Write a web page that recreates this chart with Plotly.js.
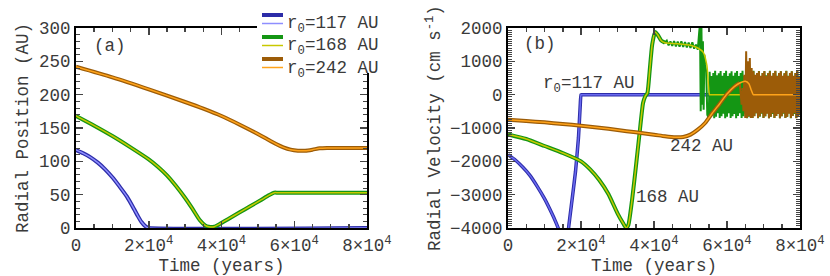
<!DOCTYPE html>
<html>
<head>
<meta charset="utf-8">
<script src="https://cdn.plot.ly/plotly-3.0.1.min.js"></script>
<style>html,body{margin:0;padding:0;background:#fff}#chart{width:830px;height:276px}</style>
</head>
<body>
<div id="chart"></div>
<script>
// ---------- Panel (a): radial position (AU) ----------
var posT117 = [0,2000,4000,6000,8000,10000,12000,14000,16000,17000,18000,19000,19500,20000,80000];
var posR117 = [117,112,106,98,88,76,62,47,28,18,9,3,1,0,0];
var posT168 = [0,5000,10000,15000,20000,22500,25000,27500,30000,32000,34000,35500,36500,38000,39500,42000,45000,48000,51000,53000,54500,55500,80000];
var posR168 = [168,153.5,138,121,103,92,79,63,45,29,12,4,2,2,6,14,23.5,33,42.5,49,53,53,53];
var posT242 = [0,10000,20000,30000,35000,40000,45000,50000,53000,55000,57000,59000,61000,63000,65000,67000,69000,80000];
var posR242 = [242,226,208,189,179,168,155,141,132,126,121,117.5,116,116,117.5,119.5,120,120];

// ---------- Panel (b): radial velocity (cm/s) ----------
var velT117 = [0,2000,4000,6000,8000,10000,12000,13000,14000,15000,16000,16600,17500,18500,19300,19800,20000,20300,80000];
var velV117 = [-1800,-1960,-2170,-2420,-2750,-3120,-3560,-3800,-4080,-5000,-5000,-4000,-3200,-2300,-1300,-300,0,0,0];

// 168 AU, thin (yellow) run
var velT168 = [0,5000,10000,15000,20000,22500,25000,27500,30000,31500,32400,33000,34000,35000,36000,37000,37600,38200,38800,39500,40300,41000,42000,43000,46000,50000,52000,53500,54500,55200,55500,80000];
var velV168 = [-1190,-1330,-1540,-1750,-2000,-2240,-2560,-2980,-3560,-3850,-4000,-3900,-3150,-2200,-1200,-250,-50,50,700,1500,1880,1800,1620,1560,1530,1480,1400,1270,870,0,0,0];

// 168 AU, thick (green) run: smooth part, then noisy part, then oscillation
var velT168g = [0,5000,10000,15000,20000,22500,25000,27500,30000,31500,32400,33000,34000,35000,36000,37000,37600,38200,38800,39500,40300,41000,42000,43000,43500,44000,44500,45000,45500,46000,46500,47000,47500,48000,48500,49000,49500,50000,50500,51000,51500,52000,52400,52600,52800,53000,53200,53400,53600,53800,54000,54300,54600];
var velV168g = [-1190,-1330,-1540,-1750,-2000,-2240,-2560,-2980,-3560,-3850,-4000,-3900,-3150,-2200,-1200,-250,-50,50,700,1500,1880,1800,1620,1560,1620,1480,1600,1460,1610,1450,1590,1440,1600,1430,1580,1420,1560,1400,1570,1380,1500,1350,1900,2100,-500,2000,-300,1600,-450,1200,900,700,-600];
var oscStart168 = 55000, oscStep = 250;
var velOsc168 = [
-700,690,-640,560,-580,650,-710,720,-660,580,-560,640,-700,710,-650,570,-570,650,-710,720,-660,560,-560,640,
-700,700,-650,570,-580,660,-710,710,-640,560,-560,650,-700,720,-650,570,-570,640,-710,700,-660,560,-580,650,
-700,720,-640,570,-560,640,-710,710,-660,560,-570,650,-700,700,-650,580,-560,640,-710,720,-660,560,-580,650,
-700,710,-640,570,-560,650,-710,700,-650,560,-570,640,-700,720,-660,570,-560,650,-710,700,-640,560,-580,650,
-700,710,-660,570,-600];

// 242 AU, thin (orange) run
var velT242 = [0,5000,10000,15000,20000,25000,30000,35000,40000,43000,46000,48000,50000,52000,54000,56000,58000,60000,62000,63500,65000,66000,66600,67200,67600,80000];
var velV242 = [-750,-790,-830,-880,-930,-990,-1060,-1130,-1200,-1250,-1280,-1270,-1200,-1050,-850,-550,-270,20,240,350,400,330,150,0,0,0];
// 242 AU, thick (brown) run: same smooth part up to 63500, then oscillation
var oscStart242 = 64000;
var velOsc242 = [
-300,200,-500,600,-700,1300,-700,1000,-650,1100,-700,800,-700,700,-650,600,-560,650,-700,700,-640,570,-560,650,
-700,710,-650,560,-570,640,-710,700,-660,570,-560,650,-700,720,-640,560,-580,650,-710,700,-650,570,-560,640,
-700,710,-660,560,-570,650,-700,700,-640,570,-560,650,-710,710,-650,560,-570];

var xTickVals = [0,20000,40000,60000,80000];
var xTickText = ['0','2×10<sup>4</sup>','4×10<sup>4</sup>','6×10<sup>4</sup>','8×10<sup>4</sup>'];

// build thick green / brown series
var gT = velT168g.slice(), gV = velV168g.slice();
velOsc168.forEach(function(v,i){ gT.push(oscStart168 + i*oscStep); gV.push(v); });
var bT = [], bV = [];
velT242.forEach(function(t,i){ if (t < oscStart242) { bT.push(t); bV.push(velV242[i]); } });
velOsc242.forEach(function(v,i){ bT.push(oscStart242 + i*oscStep); bV.push(v); });

var C = {
  blueD:'#2c2ca8', blueL:'#8e8eff',
  greenD:'#149614', greenL:'#c8c800',
  brownD:'#9c5c08', brownL:'#ffa31a'
};
function ln(x,y,color,w,xa,ya,smooth){
  var l = {color:color,width:w};
  if (smooth) { l.shape='spline'; l.smoothing=smooth; }
  return {x:x,y:y,type:'scatter',mode:'lines',line:l,xaxis:xa,yaxis:ya,showlegend:false,hoverinfo:'skip'};
}
var traces = [
  ln(posT117,posR117,C.blueD,4,'x','y',0.7), ln(posT117,posR117,C.blueL,1.5,'x','y',0.7),
  ln(posT168,posR168,C.greenD,4,'x','y',0.5), ln(posT168,posR168,C.greenL,1.5,'x','y',0.5),
  ln(posT242,posR242,C.brownD,4,'x','y',0.7), ln(posT242,posR242,C.brownL,1.5,'x','y',0.7),

  ln(velT117,velV117,C.blueD,3.5,'x2','y2',0.4), ln(velT117,velV117,'#6a6af0',1.5,'x2','y2',0.4),
  ln(velT168.slice(0,24),velV168.slice(0,24),C.greenD,4,'x2','y2',0.5),
  ln(gT,gV,C.greenD,2,'x2','y2'), ln(velT168,velV168,C.greenL,1.5,'x2','y2',0.5),
  ln(velT242.slice(0,20),velV242.slice(0,20),C.brownD,4,'x2','y2',0.6),
  ln(bT,bV,C.brownD,2,'x2','y2'), ln(velT242,velV242,C.brownL,1.5,'x2','y2',0.6)
];

var FONT = '"Liberation Mono", "Courier New", monospace';
var tickFont = {family:FONT,size:17.5,color:'#3a3a3a'};
function xaxis(dom){
  return {domain:dom,range:[0,80000],tickvals:xTickVals,ticktext:xTickText,ticks:'inside',ticklen:7,tickwidth:1.5,
    showline:true,linewidth:2,linecolor:'#000',mirror:'ticks',showgrid:false,zeroline:false,tickfont:tickFont,
    minor:{dtick:5000,tick0:0,ticks:'inside',ticklen:4,tickwidth:1.5,showgrid:false},
    title:{text:'Time (years)',font:tickFont,standoff:0}};
}
function yaxis(dom,range,dtick,mdt,title,anchor,so){
  return {domain:dom,range:range,dtick:dtick,tick0:0,ticks:'inside',ticklen:7,tickwidth:1.5,anchor:anchor,
    showline:true,linewidth:2,linecolor:'#000',mirror:'ticks',showgrid:false,zeroline:false,tickfont:tickFont,
    minor:{dtick:mdt,tick0:0,ticks:'inside',ticklen:4,tickwidth:1,showgrid:false},
    title:{text:title,font:tickFont,standoff:so}};
}
var yDom = [1-228/276, 1-28/276];
var layout = {
  width:830,height:276,margin:{l:0,r:0,t:0,b:0},paper_bgcolor:'#fff',plot_bgcolor:'#fff',showlegend:false,
  xaxis:Object.assign(xaxis([76/830,367/830]),{anchor:'y'}),
  yaxis:yaxis(yDom,[0,300],50,10,'Radial Position (AU)','x',6),
  xaxis2:Object.assign(xaxis([508/830,800/830]),{anchor:'y2'}),
  yaxis2:yaxis(yDom,[-4000,2000],1000,1000/15,'Radial Velocity (cm s<sup>-1</sup>)','x2',5),
  annotations:[
    {xref:'x',yref:'y',x:9300,y:273,text:'(a)',showarrow:false,font:tickFont},
    {xref:'x2',yref:'y2',x:8800,y:1520,text:'(b)',showarrow:false,font:tickFont},
    {xref:'x2',yref:'y2',x:21980,y:312,text:'r<sub>0</sub>=117 AU',showarrow:false,font:tickFont},
    {xref:'x2',yref:'y2',x:53040,y:-1549,text:'242 AU',showarrow:false,font:tickFont},
    {xref:'x2',yref:'y2',x:43740,y:-3056,text:'168 AU',showarrow:false,font:tickFont},
    {xref:'paper',yref:'paper',x:285/830,y:1-25/276,xanchor:'left',yanchor:'middle',text:'r<sub>0</sub>=117 AU',showarrow:false,font:tickFont},
    {xref:'paper',yref:'paper',x:285/830,y:1-47/276,xanchor:'left',yanchor:'middle',text:'r<sub>0</sub>=168 AU',showarrow:false,font:tickFont},
    {xref:'paper',yref:'paper',x:285/830,y:1-69/276,xanchor:'left',yanchor:'middle',text:'r<sub>0</sub>=242 AU',showarrow:false,font:tickFont}
  ],
  shapes:[
    {type:'rect',xref:'paper',yref:'paper',x0:257/830,x1:392/830,y0:1-73/276,y1:1,fillcolor:'#fff',line:{width:0},layer:'above'},
    {type:'line',xref:'paper',yref:'paper',x0:262/830,x1:283/830,y0:1-15/276,y1:1-15/276,line:{color:C.blueD,width:4},layer:'above'},
    {type:'line',xref:'paper',yref:'paper',x0:262/830,x1:283/830,y0:1-23.5/276,y1:1-23.5/276,line:{color:C.blueL,width:1.5},layer:'above'},
    {type:'line',xref:'paper',yref:'paper',x0:262/830,x1:283/830,y0:1-37/276,y1:1-37/276,line:{color:C.greenD,width:4},layer:'above'},
    {type:'line',xref:'paper',yref:'paper',x0:262/830,x1:283/830,y0:1-45.5/276,y1:1-45.5/276,line:{color:C.greenL,width:1.5},layer:'above'},
    {type:'line',xref:'paper',yref:'paper',x0:262/830,x1:283/830,y0:1-59/276,y1:1-59/276,line:{color:C.brownD,width:4},layer:'above'},
    {type:'line',xref:'paper',yref:'paper',x0:262/830,x1:283/830,y0:1-67.5/276,y1:1-67.5/276,line:{color:C.brownL,width:1.5},layer:'above'}
  ]
};
Plotly.newPlot('chart',traces,layout,{staticPlot:true,displayModeBar:false});
</script>
</body>
</html>
